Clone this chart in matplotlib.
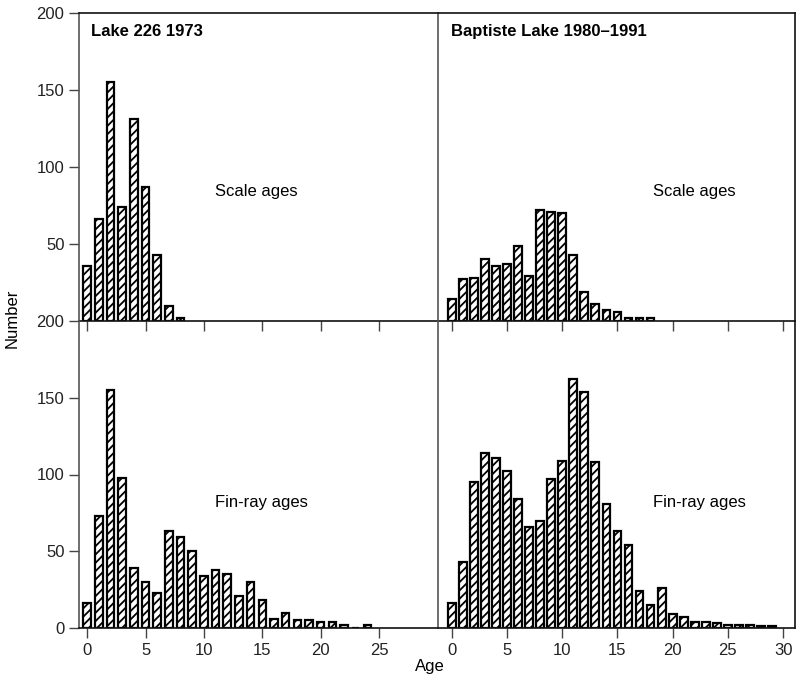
import numpy as np
import matplotlib
matplotlib.use('Agg')
import matplotlib.pyplot as plt

plt.rcParams['font.family'] = ['Liberation Sans', 'DejaVu Sans']
plt.rcParams['font.size'] = 12
plt.rcParams['hatch.linewidth'] = 1.3

# Lake 226 1973
l226_scale = [36, 66, 155, 74, 131, 87, 43, 10, 2]
l226_finray = [16, 73, 155, 98, 39, 30, 23, 63, 59, 50, 34, 38, 35, 21, 30,
               18, 6, 10, 5, 5, 4, 4, 2, 0, 2]

# Baptiste Lake 1980-1991
bap_scale = [14, 27, 28, 40, 36, 37, 49, 29, 72, 71, 70, 43, 19, 11, 7, 6, 2, 2, 2]
bap_finray = [16, 43, 95, 114, 111, 102, 84, 66, 70, 97, 109, 162, 154, 108, 81,
              63, 54, 24, 15, 26, 9, 7, 4, 4, 3, 2, 2, 2, 1, 1]

fig = plt.figure(figsize=(7.98, 6.8), dpi=100)

W = 798.0
H = 680.0
xl0, xl1, xr1 = 79, 438, 795
yt0, ym, yb = 13, 321, 628

ax_ul = fig.add_axes([xl0/W, 1-ym/H, (xl1-xl0)/W, (ym-yt0)/H])
ax_ur = fig.add_axes([xl1/W, 1-ym/H, (xr1-xl1)/W, (ym-yt0)/H])
ax_ll = fig.add_axes([xl0/W, 1-yb/H, (xl1-xl0)/W, (yb-ym)/H])
ax_lr = fig.add_axes([xl1/W, 1-yb/H, (xr1-xl1)/W, (yb-ym)/H])

def bars(ax, vals, width):
    ages = np.arange(len(vals))
    ax.bar(ages, vals, width=width, color='white', edgecolor='black',
           linewidth=1.6, hatch='////', zorder=1)

bars(ax_ul, l226_scale, 0.65)
bars(ax_ll, l226_finray, 0.65)
bars(ax_ur, bap_scale, 0.7)
bars(ax_lr, bap_finray, 0.7)

for ax in (ax_ul, ax_ll):
    ax.set_xlim(-0.7, 30.05)
    ax.set_xticks([0, 5, 10, 15, 20, 25])
for ax in (ax_ur, ax_lr):
    ax.set_xlim(-1.24, 31.07)
    ax.set_xticks([0, 5, 10, 15, 20, 25, 30])

for ax in (ax_ul, ax_ur, ax_ll, ax_lr):
    ax.set_facecolor('none')
    ax.set_ylim(0, 200)
    for s in ax.spines.values():
        s.set_color('#111111')
        s.set_linewidth(1.2)
        s.set_zorder(5)
    ax.tick_params(direction='out', length=7, width=1.0, color='#444444',
                   labelcolor='#222222')

ax_ul.set_yticks([50, 100, 150, 200])
ax_ll.set_yticks([0, 50, 100, 150, 200])
for ax in (ax_ur, ax_lr):
    ax.set_yticks([])
for ax in (ax_ul, ax_ur):
    ax.tick_params(axis='x', labelbottom=False)
for ax in (ax_ul, ax_ll):
    ax.spines['right'].set_visible(False)
    ax.spines['left'].set_color('#555555')
for ax in (ax_ur, ax_lr):
    ax.spines['left'].set_color('#555555')
for ax in (ax_ll, ax_lr):
    ax.spines['top'].set_visible(False)

ax_ul.text(0.033, 0.94, 'Lake 226 1973', transform=ax_ul.transAxes,
           fontweight='bold', va='center', ha='left')
ax_ur.text(0.036, 0.94, 'Baptiste Lake 1980\u20131991', transform=ax_ur.transAxes,
           fontweight='bold', va='center', ha='left')
ax_ul.text(0.379, 0.42, 'Scale ages', transform=ax_ul.transAxes, va='center')
ax_ur.text(0.602, 0.42, 'Scale ages', transform=ax_ur.transAxes, va='center')
ax_ll.text(0.379, 0.41, 'Fin-ray ages', transform=ax_ll.transAxes, va='center')
ax_lr.text(0.602, 0.41, 'Fin-ray ages', transform=ax_lr.transAxes, va='center')

fig.text(12/W, 1-318/H, 'Number', rotation=90, ha='center', va='center')
fig.text(430/W, 1-667/H, 'Age', ha='center', va='center')

fig.savefig('out.png', dpi=100)
